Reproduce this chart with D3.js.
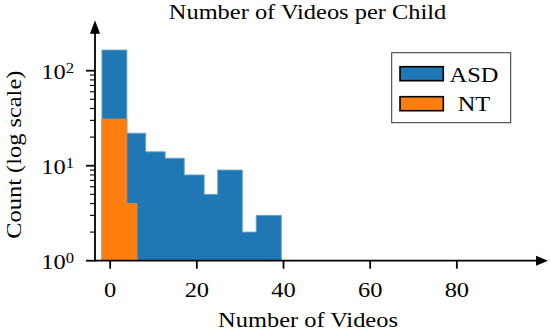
<!DOCTYPE html>
<html>
<head>
<meta charset="utf-8">
<script src="https://cdnjs.cloudflare.com/ajax/libs/d3/7.8.5/d3.min.js"></script>
<style>
  body { margin: 0; background: #fff; }
  text { font-family: 'Liberation Serif', 'Times New Roman', Times, serif; }
</style>
</head>
<body>
<div id="chart"></div>
<script>
// bin edges and counts
const asdEdges = [-1.9, 3.85, 8.2, 12.7, 17.1, 21.7, 24.8, 30.5, 33.7, 39.5];
const asdCounts = [165, 22, 14, 12, 8, 5, 9, 2, 3];
const ntEdges = [-1.9, 3.85, 6.2];
const ntCounts = [31, 4];

const xTicks = [0, 20, 40, 60, 80];
const yMajor = [1, 10, 100];
const yMajorLabels = ['0', '1', '2'];
const yMinor = [2, 3, 4, 5, 6, 7, 8, 9, 20, 30, 40, 50, 60, 70, 80, 90];

const seriesNames = ['ASD', 'NT'];
const colors = ['#1f77b4', '#ff7f0e'];

const w = 550,
      h = 332,
      padLeft = 95,
      padRight = 537,
      yBottom = 260.7,
      yTop = 32.7,
      sx = 1.11; // text comes out a bit wider than the font, stretch it

const x = d3.scaleLinear().domain([-3.5, 98.5]).range([padLeft, padRight]);
const y = d3.scaleLog().domain([1, Math.pow(10, 2.4)]).range([yBottom, yTop]);

const svg = d3.select('#chart').append('svg').attr('width', w).attr('height', h);

const text = (str, tx, ty, size, anchor, rot) => svg.append('text')
  .attr('transform', `translate(${tx},${ty})${rot ? ` rotate(${rot})` : ''} scale(${sx},1)`)
  .attr('text-anchor', anchor)
  .attr('font-family', "'Liberation Serif', 'Times New Roman', Times, serif")
  .style('font-size', size + 'px')
  .text(str);

const bins = (edges, counts) => counts.map((c, i) => ({x0: edges[i], x1: edges[i + 1], c: c}));

/* Bars - one filled step shape per series so no seams between bins */
const drawBars = (data, fill, stroke) => {
  const pts = [[data[0].x0, 1]];
  data.forEach((d) => { pts.push([d.x0, d.c]); pts.push([d.x1, d.c]); });
  pts.push([data[data.length - 1].x1, 1]);
  const line = d3.line().x((p) => x(p[0])).y((p) => y(p[1]));
  const g = svg.append('g');
  g.append('path')
    .attr('d', line(pts) + 'Z')
    .style('fill', fill)
    .style('stroke', 'none');
  g.append('path')
    .attr('d', line(pts))
    .style('fill', 'none')
    .style('stroke', stroke)
    .style('stroke-width', 0.9);
};

drawBars(bins(asdEdges, asdCounts), colors[0], '#6aa7d3');
drawBars(bins(ntEdges, ntCounts), colors[1], '#c98a55');

/* Axes */
const axis = svg.append('g').style('stroke', '#000');
axis.append('line').attr('x1', padLeft).attr('x2', padRight).attr('y1', yBottom).attr('y2', yBottom).style('stroke-width', 1.8);
axis.append('line').attr('x1', padLeft).attr('x2', padLeft).attr('y1', yBottom + 0.9).attr('y2', yTop).style('stroke-width', 1.8);
axis.append('path').attr('d', `M${padRight - 1},${yBottom - 5}L${padRight + 11},${yBottom}L${padRight - 1},${yBottom + 5}Z`).style('fill', '#000').style('stroke', 'none');
axis.append('path').attr('d', `M${padLeft - 5},${yTop + 1}L${padLeft},${yTop - 12.5}L${padLeft + 5},${yTop + 1}Z`).style('fill', '#000').style('stroke', 'none');

axis.selectAll('.xt').data(xTicks).enter().append('line')
  .attr('x1', (d) => x(d)).attr('x2', (d) => x(d))
  .attr('y1', yBottom).attr('y2', yBottom + 8)
  .style('stroke-width', 1.8);

axis.selectAll('.ymaj').data(yMajor).enter().append('line')
  .attr('x1', padLeft - 9).attr('x2', padLeft)
  .attr('y1', (d) => y(d)).attr('y2', (d) => y(d))
  .style('stroke-width', 1.8);

axis.selectAll('.ymin').data(yMinor).enter().append('line')
  .attr('x1', padLeft - 5).attr('x2', padLeft)
  .attr('y1', (d) => y(d)).attr('y2', (d) => y(d))
  .style('stroke-width', 1.1);

xTicks.forEach((d) => text(d, x(d), 296.7, 22, 'middle'));

yMajor.forEach((d, i) => {
  const t = text('10', 74, y(d) + 8.6, 22, 'end');
  t.append('tspan').attr('dy', -6).style('font-size', '15px').text(yMajorLabels[i]);
});

/* Labels */
text('Number of Videos per Child', 307.5, 18.5, 22, 'middle');
text('Number of Videos', 308, 327, 22, 'middle');
text('Count (log scale)', 20.5, 154.7, 22, 'middle', -90);

/* Legend */
const legend = svg.append('g');
legend.append('rect').attr('x', 391.7).attr('y', 52.7).attr('width', 119).attr('height', 70)
  .style('fill', '#fff').style('stroke', '#333').style('stroke-width', 1);
seriesNames.forEach((name, i) => {
  legend.append('rect').attr('x', 400).attr('y', 66.7 + i * 30).attr('width', 43.3).attr('height', 14)
    .style('fill', colors[i]).style('stroke', '#000').style('stroke-width', 1.6);
  text(name, 474, 81.7 + i * 29.5, 22, 'middle');
});
</script>
</body>
</html>
